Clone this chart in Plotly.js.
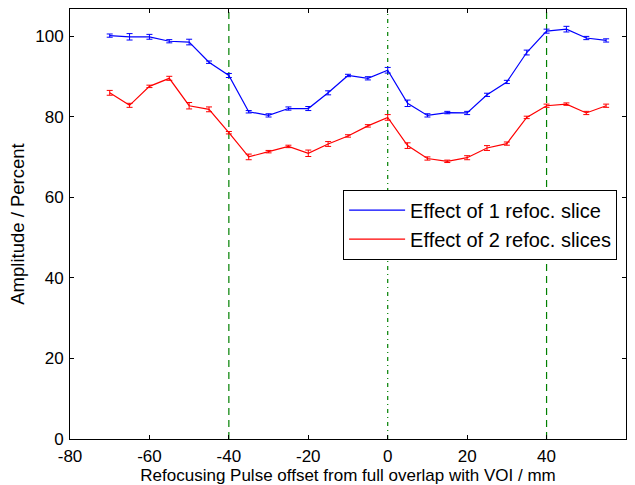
<!DOCTYPE html>
<html>
<head>
<meta charset="utf-8">
<script src="https://cdn.plot.ly/plotly-3.0.1.min.js"></script>
<style>html,body{margin:0;padding:0;background:#fff;}#chart{width:635px;height:485px;}</style>
</head>
<body>
<div id="chart"></div>
<script>
const offsets = [-70,-65,-60,-55,-50,-45,-40,-35,-30,-25,-20,-15,-10,-5,0,5,10,15,20,25,30,35,40,45,50,55];
const oneSlice = [100.1,99.8,99.8,98.7,98.5,93.5,90.2,81.2,80.3,82.0,82.0,85.9,90.2,89.5,91.5,83.3,80.3,81.0,80.9,85.4,88.6,95.9,101.2,101.7,99.5,98.9];
const oneSliceErr = [0.4,0.8,0.6,0.4,0.7,0.3,0.5,0.3,0.4,0.4,0.5,0.5,0.3,0.4,0.7,0.8,0.4,0.3,0.4,0.4,0.4,0.6,0.5,0.7,0.4,0.4];
const twoSlices = [85.9,82.8,87.5,89.5,82.7,81.8,76.0,70.0,71.3,72.6,70.9,73.2,75.2,77.7,79.8,72.8,69.6,68.9,69.8,72.2,73.3,79.8,82.7,83.1,80.9,82.7];
const twoSlicesErr = [0.6,0.5,0.3,0.5,0.8,0.6,0.3,0.7,0.3,0.3,0.8,0.6,0.3,0.3,0.7,0.7,0.4,0.3,0.5,0.6,0.4,0.3,0.4,0.3,0.4,0.4];
const dashedLines = [-40, 40];
const dashDotLines = [0];
const seriesNames = ['Effect of 1 refoc. slice', 'Effect of 2 refoc. slices'];
const xTickVals = [-80, -60, -40, -20, 0, 20, 40, 60];
const xTickText = ['-80', '-60', '-40', '-20', '0', '20', '40', '60'];
const yTickVals = [0, 20, 40, 60, 80, 100];
const yTickText = ['0', '20', '40', '60', '80', '100'];

const FONT = 'Liberation Sans, Arial, sans-serif';

const traces = [
  {x: offsets, y: oneSlice, name: seriesNames[0], type: 'scatter', mode: 'lines',
   line: {color: '#0000ff', width: 1.2},
   error_y: {type: 'data', array: oneSliceErr, visible: true, color: '#0000ff', thickness: 1, width: 3}},
  {x: offsets, y: twoSlices, name: seriesNames[1], type: 'scatter', mode: 'lines',
   line: {color: '#ff0000', width: 1.2},
   error_y: {type: 'data', array: twoSlicesErr, visible: true, color: '#ff0000', thickness: 1, width: 3}}
];

const shapes = [];
dashedLines.forEach(v => shapes.push({type: 'line', xref: 'x', yref: 'paper', x0: v, x1: v, y0: 0, y1: 1,
  line: {color: '#008000', width: 1.2, dash: '7px,5px'}, layer: 'below'}));
dashDotLines.forEach(v => shapes.push({type: 'line', xref: 'x', yref: 'paper', x0: v, x1: v, y0: 0, y1: 1,
  line: {color: '#008000', width: 1.2, dash: '4px,4px,1px,4px'}, layer: 'below'}));

const axisCommon = {
  showgrid: false, zeroline: false, showline: true, linecolor: '#000', linewidth: 1,
  mirror: 'allticks', ticks: 'inside', ticklen: 4, tickcolor: '#000', tickwidth: 1,
  tickfont: {family: FONT, size: 17, color: '#000'}
};

const layout = {
  width: 635, height: 485,
  margin: {l: 70, r: 9, t: 9, b: 46},
  paper_bgcolor: '#fff', plot_bgcolor: '#fff',
  font: {family: FONT, color: '#000'},
  xaxis: Object.assign({}, axisCommon, {range: [-80, 60], tickmode: 'array', tickvals: xTickVals, ticktext: xTickText,
    ticklabelstandoff: 2,
    title: {text: 'Refocusing Pulse offset from full overlap with VOI / mm', font: {size: 17}, standoff: 0}}),
  yaxis: Object.assign({}, axisCommon, {range: [0, 106.7], tickmode: 'array', tickvals: yTickVals, ticktext: yTickText,
    ticklabelstandoff: 2,
    title: {text: 'Amplitude / Percent', font: {size: 18.5}, standoff: 5}}),
  shapes: shapes,
  showlegend: true,
  legend: {x: 0.984, y: 0.58, xanchor: 'right', yanchor: 'top', itemwidth: 56,
    bordercolor: '#000', borderwidth: 1, bgcolor: '#fff',
    font: {size: 20, family: FONT}, tracegroupgap: 0}
};

Plotly.newPlot('chart', traces, layout, {displayModeBar: false, staticPlot: true});
</script>
</body>
</html>
